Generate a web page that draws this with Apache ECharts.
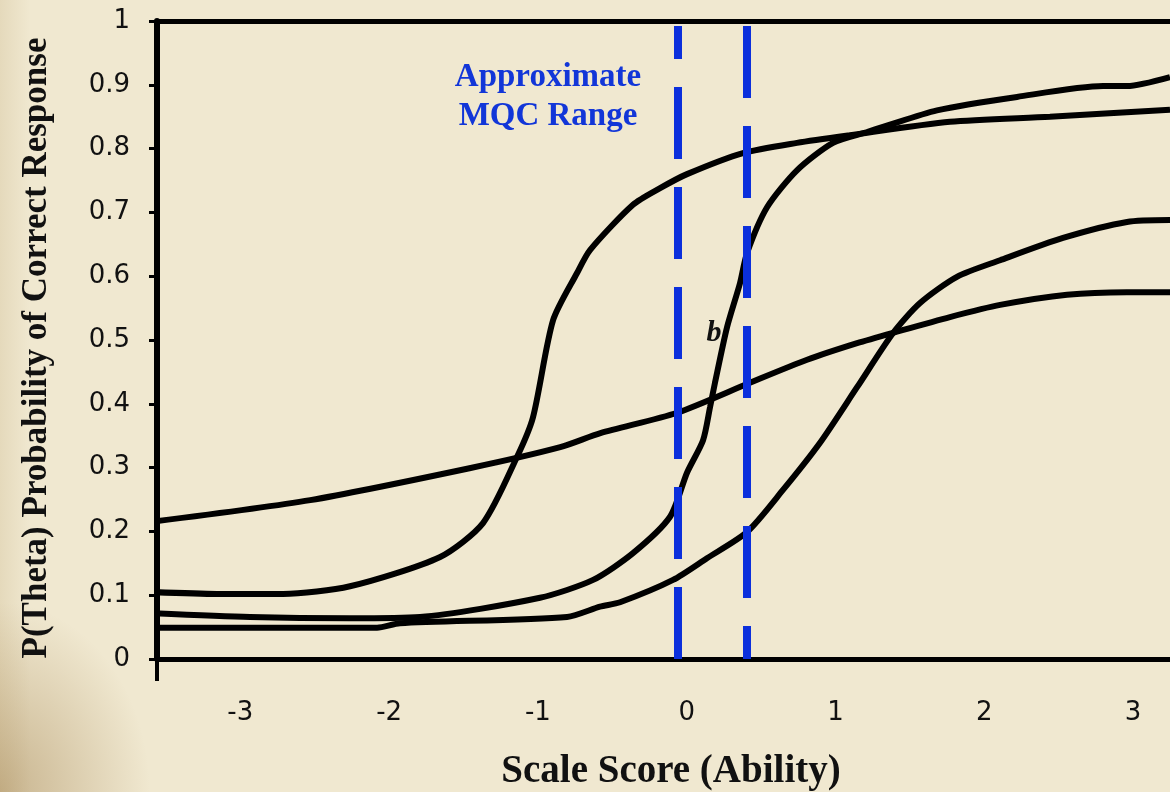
<!DOCTYPE html>
<html>
<head>
<meta charset="utf-8">
<script src="https://cdn.jsdelivr.net/npm/echarts@6/dist/echarts.min.js"></script>
<style>
html,body{margin:0;padding:0;width:1170px;height:792px;overflow:hidden;}
body{
  background:
    radial-gradient(ellipse 150px 190px at 0px 792px, rgba(150,115,60,0.45), rgba(150,115,60,0) 100%),
    linear-gradient(to right, rgba(170,140,80,0.16) 0px, rgba(170,140,80,0) 30px),
    #f0e8d0;
}
#chart{width:1170px;height:792px;}
</style>
</head>
<body>
<div id="chart"></div>
<script>
// x: ability (theta), y: probability of correct response
const xTickLabels = [-3, -2, -1, 0, 1, 2, 3];
const yTicks = [0, 0.1, 0.2, 0.3, 0.4, 0.5, 0.6, 0.7, 0.8, 0.9, 1];

const curveA_x = [-3.60, -2.53, -1.46, -0.85, -0.58, -0.065, 0.425, 0.809, 1.145, 1.413, 1.769, 2.106, 2.556, 2.959, 3.248];
const curveA_y = [0.215, 0.249, 0.299, 0.332, 0.354, 0.386, 0.433, 0.469, 0.495, 0.513, 0.536, 0.555, 0.571, 0.575, 0.575];

const curveB_x = [-3.60, -3.157, -2.713, -2.263, -1.657, -1.369, -1.140, -1.033, -0.898, -0.737, -0.650, -0.361, -0.179, 0.002, 0.378, 0.741, 1.097, 1.769, 2.441, 3.248];
const curveB_y = [0.105, 0.102, 0.102, 0.114, 0.160, 0.213, 0.317, 0.379, 0.531, 0.605, 0.641, 0.712, 0.738, 0.760, 0.793, 0.809, 0.821, 0.842, 0.850, 0.861];

const curveC_x = [-3.60, -2.935, -2.263, -1.792, -0.986, -0.629, -0.361, -0.112, 0.002, 0.110, 0.157, 0.190, 0.271, 0.358, 0.405, 0.540, 0.741, 0.983, 1.212, 1.319, 1.682, 2.220, 2.798, 2.959, 3.248];
const curveC_y = [0.072, 0.066, 0.064, 0.066, 0.096, 0.124, 0.166, 0.223, 0.292, 0.343, 0.395, 0.433, 0.520, 0.589, 0.636, 0.708, 0.766, 0.809, 0.826, 0.834, 0.860, 0.881, 0.898, 0.898, 0.912];

const curveD_x = [-3.60, -2.081, -1.927, -0.804, -0.583, -0.448, -0.092, 0.136, 0.405, 0.647, 0.896, 1.145, 1.387, 1.568, 1.816, 2.106, 2.529, 2.959, 3.248];
const curveD_y = [0.049, 0.049, 0.056, 0.066, 0.082, 0.089, 0.124, 0.158, 0.199, 0.265, 0.339, 0.426, 0.511, 0.558, 0.599, 0.625, 0.660, 0.685, 0.688];

// approximate MQC range boundaries (theta)
const mqcLower = -0.062;
const mqcUpper = 0.405;
const mqcTop = 0.992;

const xMin = -3.56, xMax = 3.248;

function pairs(xs, ys){ return xs.map((x,i)=>[x, ys[i]]); }

const chart = echarts.init(document.getElementById('chart'), null, {renderer:'canvas'});

const curveStyle = {
  type:'line', showSymbol:false, smooth:0.25, clip:false, silent:true,
  lineStyle:{color:'#000', width:6}, z:3
};

const option = {
  animation:false,
  backgroundColor:'transparent',
  grid:{left:157, top:21, right:0, bottom:133},
  xAxis:[{
    type:'value', min:xMin, max:xMax,
    axisLine:{show:true, onZero:false, lineStyle:{color:'#000', width:5}},
    axisTick:{show:true, customValues:[xMin], length:22, lineStyle:{color:'#000', width:4}},
    axisLabel:{customValues:xTickLabels, margin:41, fontFamily:'DejaVu Sans', fontSize:26, color:'#111'},
    splitLine:{show:false}
  },{
    type:'value', position:'top', min:xMin, max:xMax,
    axisLine:{show:true, onZero:false, lineStyle:{color:'#000', width:5}},
    axisTick:{show:false}, axisLabel:{show:false}, splitLine:{show:false}
  }],
  yAxis:{
    type:'value', min:0, max:1, interval:0.1,
    axisLine:{show:true, onZero:false, lineStyle:{color:'#000', width:6}},
    axisTick:{show:true, inside:false, length:8, lineStyle:{color:'#000', width:3}},
    axisLabel:{margin:27, fontFamily:'DejaVu Sans', fontSize:26, color:'#111',
      formatter:v=>String(Math.round(v*10)/10)},
    splitLine:{show:false}
  },
  series:[
    Object.assign({name:'A', data:pairs(curveA_x, curveA_y)}, curveStyle),
    Object.assign({name:'B', data:pairs(curveB_x, curveB_y)}, curveStyle),
    Object.assign({name:'C', data:pairs(curveC_x, curveC_y)}, curveStyle),
    Object.assign({name:'D', data:pairs(curveD_x, curveD_y)}, curveStyle),
    {
      type:'line', data:[], silent:true, z:2,
      markLine:{
        symbol:['none','none'], silent:true, animation:false,
        label:{show:false},
        data:[
          [{coord:[mqcLower, mqcTop], lineStyle:{color:'#0b2fdc', width:8, type:[72,28], dashOffset:39}}, {coord:[mqcLower, 0]}],
          [{coord:[mqcUpper, mqcTop], lineStyle:{color:'#0b2fdc', width:8, type:[72,28], dashOffset:0}}, {coord:[mqcUpper, 0]}]
        ]
      }
    }
  ],
  graphic:[
    {type:'text', x:548, y:77, style:{text:'Approximate', fill:'#1236d8', font:'bold 33px "Liberation Serif"', textAlign:'center', textVerticalAlign:'middle'}},
    {type:'text', x:548, y:116, style:{text:'MQC Range', fill:'#1236d8', font:'bold 33px "Liberation Serif"', textAlign:'center', textVerticalAlign:'middle'}},
    {type:'text', x:714, y:333, style:{text:'b', fill:'#111', font:'italic bold 30px "Liberation Serif"', textAlign:'center', textVerticalAlign:'middle'}},
    {type:'text', x:37, y:348, rotation:Math.PI/2, style:{text:'P(Theta) Probability of Correct Response', fill:'#111', font:'bold 35px "Liberation Serif"', textAlign:'center', textVerticalAlign:'middle'}},
    {type:'text', x:671, y:772, style:{text:'Scale Score (Ability)', fill:'#111', font:'bold 39px "Liberation Serif"', textAlign:'center', textVerticalAlign:'middle'}}
  ]
};
chart.setOption(option);
</script>
</body>
</html>
